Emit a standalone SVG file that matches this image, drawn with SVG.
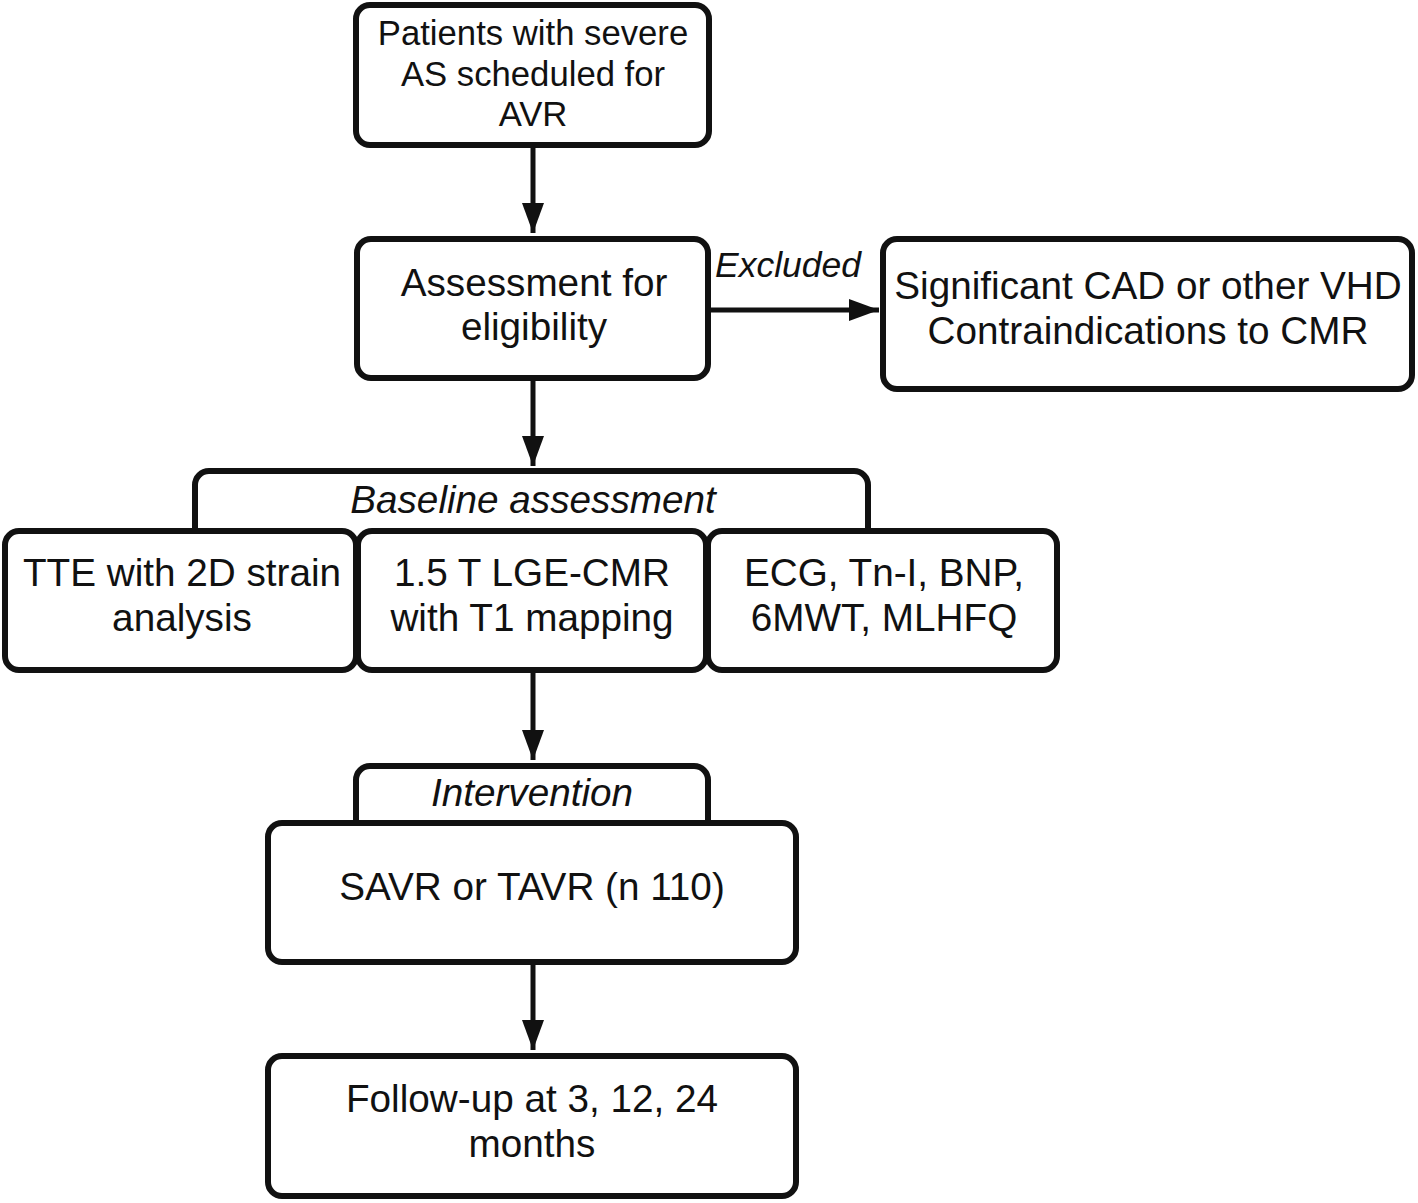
<svg xmlns="http://www.w3.org/2000/svg" width="1418" height="1203" viewBox="0 0 1418 1203">
<style>
.box{fill:#fff;stroke:#111;stroke-width:6}
.t{font-family:"Liberation Sans",Arial,sans-serif;font-size:38.7px;fill:#111;text-anchor:middle}
.i{font-style:italic}
.con{stroke:#111;stroke-width:5;fill:none}
</style>
<defs>
<marker id="ah" viewBox="0 0 30 22" refX="30" refY="11" markerWidth="30" markerHeight="22" markerUnits="userSpaceOnUse" orient="auto">
<path d="M0,0 L30,11 L0,22 Z" fill="#111"/>
</marker>
</defs>
<rect width="1418" height="1203" fill="#fff"/>
<g id="connectors">
<line class="con" x1="533" y1="146" x2="533" y2="233" marker-end="url(#ah)"/>
<line class="con" x1="709" y1="310" x2="879" y2="310" marker-end="url(#ah)"/>
<line class="con" x1="533" y1="379" x2="533" y2="466" marker-end="url(#ah)"/>
<line class="con" x1="533" y1="671" x2="533" y2="760" marker-end="url(#ah)"/>
<line class="con" x1="533" y1="963" x2="533" y2="1050" marker-end="url(#ah)"/>
<text class="t i" x="788" y="277" style="font-size:35.5px">Excluded</text>
</g>
<g id="n1">
<rect class="box" x="356" y="5" width="353" height="140" rx="14"/>
<text class="t" x="533" y="45" style="font-size:34.7px">Patients with severe</text>
<text class="t" x="533" y="86" style="font-size:34.7px">AS scheduled for</text>
<text class="t" x="533" y="126" style="font-size:34.7px">AVR</text>
</g>
<g id="n2">
<rect class="box" x="357" y="239" width="351" height="139" rx="14"/>
<text class="t" x="534" y="296">Assessment for</text>
<text class="t" x="534" y="340">eligibility</text>
</g>
<g id="n3">
<rect class="box" x="883" y="239" width="529" height="150" rx="14"/>
<text class="t" x="1148" y="299">Significant CAD or other VHD</text>
<text class="t" x="1148" y="344">Contraindications to CMR</text>
</g>
<g id="baseline">
<rect class="box" x="195" y="471" width="673" height="80" rx="14"/>
<text class="t i" x="533" y="513">Baseline assessment</text>
</g>
<g id="tte">
<rect class="box" x="5" y="531" width="351" height="139" rx="14"/>
<text class="t" x="182" y="586">TTE with 2D strain</text>
<text class="t" x="182" y="631">analysis</text>
</g>
<g id="cmr">
<rect class="box" x="358" y="531" width="348" height="139" rx="14"/>
<text class="t" x="532" y="586">1.5 T LGE-CMR</text>
<text class="t" x="532" y="631">with T1 mapping</text>
</g>
<g id="labs">
<rect class="box" x="708" y="531" width="349" height="139" rx="14"/>
<text class="t" x="884" y="586">ECG, Tn-I, BNP,</text>
<text class="t" x="884" y="631">6MWT, MLHFQ</text>
</g>
<g id="intervention">
<rect class="box" x="356" y="766" width="352" height="80" rx="14"/>
<text class="t i" x="532" y="806">Intervention</text>
</g>
<g id="savr">
<rect class="box" x="268" y="823" width="528" height="139" rx="14"/>
<text class="t" x="532" y="900">SAVR or TAVR (n 110)</text>
</g>
<g id="followup">
<rect class="box" x="268" y="1056" width="528" height="140" rx="14"/>
<text class="t" x="532" y="1112">Follow-up at 3, 12, 24</text>
<text class="t" x="532" y="1157">months</text>
</g>
</svg>
